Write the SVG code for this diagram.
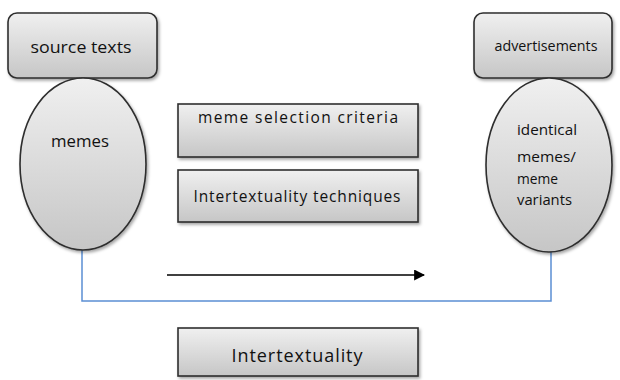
<svg xmlns="http://www.w3.org/2000/svg" width="620" height="380" viewBox="0 0 620 380">
  <defs>
    <linearGradient id="fillGrad" x1="0" y1="0" x2="0" y2="1">
      <stop offset="0" stop-color="#f0f0f0"/>
      <stop offset="1" stop-color="#c6c6c6"/>
    </linearGradient>
    <filter id="shadow" x="-10%" y="-10%" width="130%" height="130%">
      <feDropShadow dx="1.5" dy="2" stdDeviation="1.5" flood-color="#000" flood-opacity="0.35"/>
    </filter>
    <marker id="arrowHead" viewBox="0 0 10 10" refX="9" refY="5" markerWidth="11" markerHeight="11" orient="auto" markerUnits="userSpaceOnUse">
      <path d="M0,0 L10,5 L0,10 z" fill="#000"/>
    </marker>
  </defs>
  <style>
    .shape { fill: url(#fillGrad); stroke: #2e2e2e; stroke-width: 1.6; filter: url(#shadow); }
    .label { font-family: "Open Sans", "Liberation Sans", sans-serif; fill: #111; text-anchor: middle; }
    .left { text-anchor: start; }
    .link { fill: none; stroke: #5b8fd4; stroke-width: 1.5; }
  </style>
  <rect width="620" height="380" fill="#fff"/>

  <g id="connectors">
    <polyline class="link" points="82,249 82,301 551,301 551,250"/>
    <line x1="167" y1="275" x2="424" y2="275" stroke="#000" stroke-width="1.6" marker-end="url(#arrowHead)"/>
  </g>

  <g id="source-texts">
    <rect class="shape" x="8" y="13" width="149" height="65" rx="9"/>
    <text class="label" x="81" y="53" font-size="17" textLength="101" lengthAdjust="spacingAndGlyphs">source texts</text>
  </g>

  <g id="memes">
    <ellipse class="shape" cx="83" cy="164" rx="63" ry="86"/>
    <text class="label" x="80" y="147" font-size="17" textLength="58" lengthAdjust="spacingAndGlyphs">memes</text>
  </g>

  <g id="meme-selection-criteria">
    <rect class="shape" x="178" y="104" width="240" height="53"/>
    <text class="label" x="298" y="123" font-size="15.5" textLength="200" lengthAdjust="spacing">meme selection criteria</text>
  </g>

  <g id="intertextuality-techniques">
    <rect class="shape" x="178" y="170" width="240" height="52"/>
    <text class="label" x="297" y="202" font-size="15.5" textLength="207" lengthAdjust="spacing">Intertextuality techniques</text>
  </g>

  <g id="advertisements">
    <rect class="shape" x="474" y="13" width="138" height="65" rx="9"/>
    <text class="label" x="546" y="51" font-size="14" textLength="103" lengthAdjust="spacingAndGlyphs">advertisements</text>
  </g>

  <g id="identical-memes">
    <ellipse class="shape" cx="549" cy="165" rx="63" ry="87"/>
    <text class="label left" x="517" y="135" font-size="15" textLength="60" lengthAdjust="spacingAndGlyphs">identical</text>
    <text class="label left" x="517" y="162" font-size="15" textLength="59" lengthAdjust="spacingAndGlyphs">memes/</text>
    <text class="label left" x="517" y="184" font-size="15" textLength="41" lengthAdjust="spacingAndGlyphs">meme</text>
    <text class="label left" x="517" y="205" font-size="15" textLength="55" lengthAdjust="spacingAndGlyphs">variants</text>
  </g>

  <g id="intertextuality">
    <rect class="shape" x="178" y="328" width="240" height="48"/>
    <text class="label" x="297" y="362" font-size="18" textLength="131" lengthAdjust="spacing">Intertextuality</text>
  </g>
</svg>
